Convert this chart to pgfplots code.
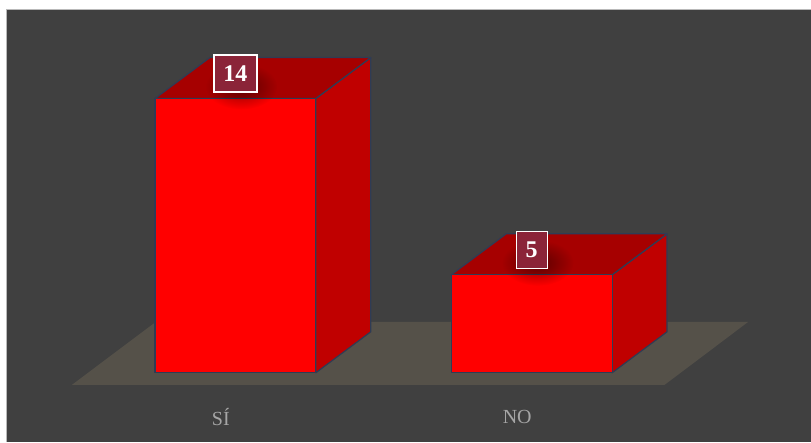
\documentclass[border=0pt]{standalone}
\usepackage{fontspec}
\setmainfont{Liberation Serif}
\usepackage{pgfplots}
\pgfplotsset{compat=1.18}
\usetikzlibrary{fadings,shapes.geometric,backgrounds}
\definecolor{bg}{RGB}{64,64,64}
\definecolor{floorc}{RGB}{85,81,73}
\definecolor{frontc}{RGB}{255,0,0}
\definecolor{sidec}{RGB}{192,0,0}
\definecolor{topc}{RGB}{166,0,0}
\definecolor{edgec}{RGB}{47,60,85}
\definecolor{lblfill}{RGB}{139,36,56}
\definecolor{catc}{RGB}{166,166,166}
\tikzfading[name=glowfade, inner color=transparent!0, outer color=transparent!100]
\begin{document}
\begin{tikzpicture}
\begin{axis}[
  width=804pt, height=432pt, scale only axis,
  xmin=-0.7707, xmax=1.9410, ymin=-3.5204, ymax=18.520,
  axis background/.style={fill=bg},
  axis line style={draw=none}, major tick length=0pt,
  ytick=\empty, xtick={0,1}, xticklabels={SÍ,NO},
  xticklabel style={font=\fontsize{20}{24}\selectfont, text=catc, anchor=center, xshift=-14.5pt, yshift=25pt},
  /pgf/number format/assume math mode=true,
  clip=false,
]
% floor
\addplot[fill=floorc, draw=none] coordinates {(-0.551,-0.612) (1.449,-0.612) (1.731,2.602) (-0.268,2.602)} -- cycle;
% bar 1 (SI = 14)
\addplot[fill=sidec, draw=edgec, line width=1.2pt, line join=round] coordinates {(0.2715,0) (0.457,2.092) (0.457,16.092) (0.2715,14)} -- cycle;
\addplot[fill=topc, draw=edgec, line width=1.2pt, line join=round] coordinates {(-0.2715,14) (0.2715,14) (0.457,16.092) (-0.086,16.092)} -- cycle;
\addplot[fill=frontc, draw=edgec, line width=1.2pt, line join=round] coordinates {(-0.2715,0) (0.2715,0) (0.2715,14) (-0.2715,14)} -- cycle;
% bar 2 (NO = 5)
\addplot[fill=sidec, draw=edgec, line width=1.2pt, line join=round] coordinates {(1.2715,0) (1.457,2.092) (1.457,7.092) (1.2715,5)} -- cycle;
\addplot[fill=topc, draw=edgec, line width=1.2pt, line join=round] coordinates {(0.7285,5) (1.2715,5) (1.457,7.092) (0.914,7.092)} -- cycle;
\addplot[fill=frontc, draw=edgec, line width=1.2pt, line join=round] coordinates {(0.7285,0) (1.2715,0) (1.2715,5) (0.7285,5)} -- cycle;
% glow under labels
\addplot[draw=none, nodes near coords={},
  every node near coord/.style={ellipse, minimum width=72pt, minimum height=46pt, fill=black, opacity=0.45, path fading=glowfade, anchor=center, xshift=6pt, yshift=12pt}]
  coordinates {(0,14) (1,5)};
% value labels
\addplot[draw=none, nodes near coords,
  every node near coord/.style={rectangle, fill=lblfill, draw=white, line width=1.3pt, inner xsep=9.5pt, inner ysep=0pt, minimum height=37pt, text depth=0pt, text=white, font=\bfseries\fontsize{24}{28}\selectfont, anchor=center, yshift=25pt}]
  coordinates {(0,14) (1,5)};
\draw[gray!55, line width=1pt] (rel axis cs:0,0) -- (rel axis cs:0,1) -- (rel axis cs:1,1);
\end{axis}
\path (current axis.south west) ++(-7pt,0pt) coordinate (bbsw);
\path (current axis.north east) ++(0pt,10pt) coordinate (bbne);
\begin{scope}[on background layer]
\fill[white] (bbsw) rectangle (bbne);
\end{scope}
\end{tikzpicture}
\end{document}
